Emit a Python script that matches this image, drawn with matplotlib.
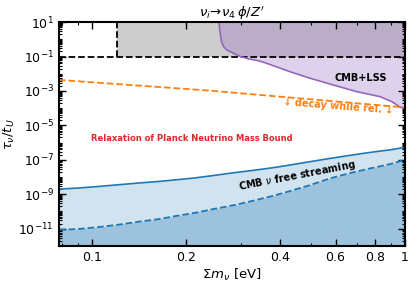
import numpy as np
import matplotlib.pyplot as plt
from matplotlib.ticker import FixedLocator, LogLocator, NullFormatter

# axis range
x_range = [0.0785, 1.0]
y_range = [1e-12, 1e1]

# excluded box (grey): sum m_nu > 0.12 eV, tau/tU > 0.1
box_mnu = 0.12
box_tau = 0.1

# CMB+LSS bound (purple)
lss_mnu = [0.2547, 0.2564, 0.2594, 0.2630, 0.2692, 0.2825, 0.2972, 0.3155,
           0.3396, 0.3573, 0.429, 0.497, 0.589, 0.701, 0.832, 0.907, 0.964, 1.0]
lss_logtau = [1.0, 0.46, -0.12, -0.41, -0.61, -0.80, -0.99, -1.13,
              -1.24, -1.36, -1.88, -2.26, -2.65, -3.04, -3.33, -3.62, -3.94, -4.0]

# decay while relativistic (orange dashed)
rel_mnu = [0.0785, 0.238, 1.0]
rel_logtau = [-2.36, -2.98, -3.96]

# CMB nu free streaming (blue)
fs_mnu = [0.0785, 0.0902, 0.1045, 0.1211, 0.1403, 0.1626, 0.1858, 0.2133,
          0.2472, 0.2864, 0.3319, 0.3846, 0.4395, 0.4966, 0.5754, 0.6668,
          0.7727, 0.8954, 0.9886, 1.0]
fs_logtau = [-8.70, -8.64, -8.55, -8.45, -8.35, -8.26, -8.16, -8.05,
             -7.90, -7.74, -7.60, -7.44, -7.27, -7.11, -6.92, -6.74,
             -6.57, -6.42, -6.29, -6.28]
fs2_logtau = [-11.06, -11.02, -10.91, -10.77, -10.60, -10.45, -10.26, -10.08,
              -9.84, -9.62, -9.35, -9.06, -8.76, -8.47, -8.08, -7.77,
              -7.50, -7.25, -7.02, -7.00]

xticks = [0.1, 0.2, 0.4, 0.6, 0.8, 1.0]
xticklabels = ['0.1', '0.2', '0.4', '0.6', '0.8', '1']
xminor = [0.08, 0.09, 0.3, 0.5, 0.7, 0.9]
yticks = [1e1, 1e-1, 1e-3, 1e-5, 1e-7, 1e-9, 1e-11]

fig = plt.figure(figsize=(4.15, 2.83), dpi=100)
ax = fig.add_axes([0.142, 0.131, 0.834, 0.791])

# grey box
ax.fill_between([box_mnu, x_range[1]], box_tau, y_range[1], color='#cccccc', lw=0)
ax.plot(x_range, [box_tau, box_tau], 'k--', lw=1.3)
ax.plot([box_mnu, box_mnu], [box_tau, y_range[1]], 'k--', lw=1.3)

# purple
lss_tau = 10.0 ** np.array(lss_logtau)
ax.fill_between(lss_mnu, lss_tau, y_range[1], color='tab:purple', alpha=0.3, lw=0)
ax.plot(lss_mnu, lss_tau, color='tab:purple', lw=1.2)

# orange
ax.plot(rel_mnu, 10.0 ** np.array(rel_logtau), '--', color='tab:orange', lw=1.3)

# blue
fs_tau = 10.0 ** np.array(fs_logtau)
fs2_tau = 10.0 ** np.array(fs2_logtau)
ax.fill_between(fs_mnu, y_range[0], fs_tau, color='tab:blue', alpha=0.2, lw=0)
ax.fill_between(fs_mnu, y_range[0], fs2_tau, color='tab:blue', alpha=0.3, lw=0)
ax.plot(fs_mnu, fs_tau, color='tab:blue', lw=1.2)
ax.plot(fs_mnu, fs2_tau, '--', color='tab:blue', lw=1.3)

ax.set_xscale('log')
ax.set_yscale('log')
ax.set_xlim(x_range)
ax.set_ylim(y_range)

ax.xaxis.set_major_locator(FixedLocator(xticks))
ax.set_xticklabels(xticklabels)
ax.xaxis.set_minor_locator(FixedLocator(xminor))
ax.xaxis.set_minor_formatter(NullFormatter())
ax.yaxis.set_major_locator(FixedLocator(yticks))
ax.yaxis.set_minor_locator(LogLocator(base=10, subs=np.arange(1, 10), numticks=100))
ax.yaxis.set_minor_formatter(NullFormatter())

ax.tick_params(which='both', direction='in', top=True, right=True, labelsize=9)
ax.tick_params(which='major', length=5, width=1.0)
ax.tick_params(which='minor', length=2.5, width=0.8)
for s in ax.spines.values():
    s.set_linewidth(1.5)

ax.set_xlabel(r'$\Sigma m_\nu$ [eV]', fontsize=9.5, labelpad=2)
ax.set_ylabel(r'$\tau_\nu/t_U$', fontsize=9.5, labelpad=1)
ax.set_title(r'$\nu_i\!\to\!\nu_4\,\phi/Z^\prime$', fontsize=9.5, pad=2)

ax.text(0.72, 5.6e-3, 'CMB+LSS', fontsize=7, fontweight='bold', ha='center', va='center')
ax.text(0.0993, 1.65e-6, 'Relaxation of Planck Neutrino Mass Bound', fontsize=6.0,
        fontweight='bold', color='#e0262a', ha='left', va='center')
ax.text(0.61, 1.2e-4, '\u2193 decay while rel. \u2193', fontsize=7,
        fontweight='bold', color='tab:orange', ha='center', va='center', rotation=-4.5)
ax.text(0.452, 1.2e-8, r'CMB $\nu$ free streaming', fontsize=7, fontweight='bold',
        ha='center', va='center', rotation=11)

fig.savefig('out.png', dpi=100)
